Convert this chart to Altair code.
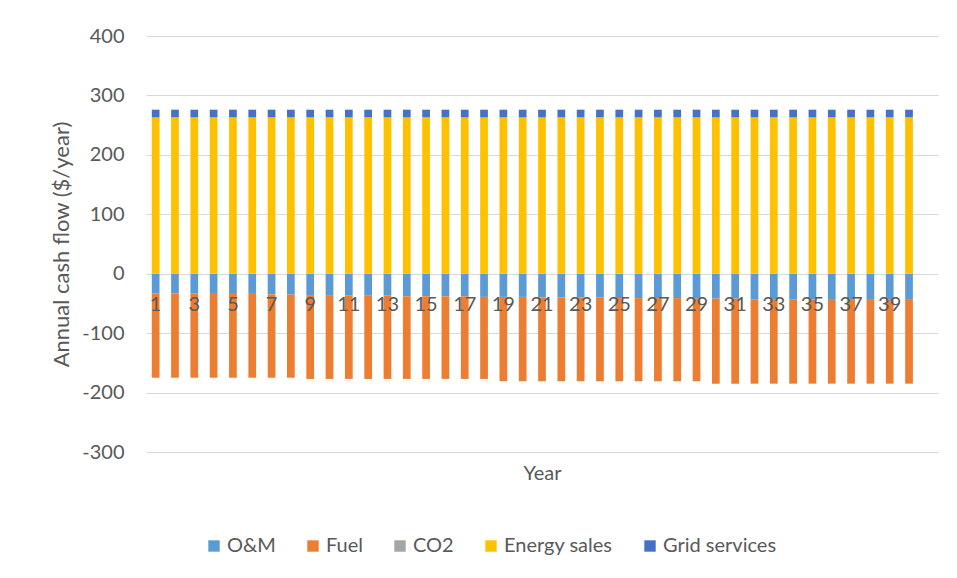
import altair as alt
import pandas as pd

years = list(range(1, 41))
series = ["O&M", "Fuel", "CO2", "Energy sales", "Grid services"]
colors = ["#5B9BD5", "#ED7D31", "#A5A5A5", "#FFC000", "#4472C4"]

om = [-33, -33, -33, -34, -34, -34, -35, -35,
      -36, -36, -37, -37, -37, -38, -38, -38, -38, -39,
      -39, -39, -40, -40, -40, -40, -41, -41, -41, -41, -42,
      -42, -42, -43, -43, -43, -43, -44, -44, -44, -44, -44]
fuel = [-142, -142, -142, -141, -141, -141, -140, -140,
        -141, -141, -140, -140, -140, -139, -139, -139, -139, -138,
        -142, -142, -141, -141, -141, -141, -140, -140, -140, -140, -139,
        -143, -143, -142, -142, -142, -142, -141, -141, -141, -141, -141]
co2 = [0] * 40
energy_sales = [263] * 40
grid_services = [13] * 40

x_domain = list(range(1, 42))
label_years = list(range(1, 40, 2))

rows = []
for i, y in enumerate(years):
    for k, (name, vals) in enumerate(zip(series, [om, fuel, co2, energy_sales, grid_services])):
        rows.append({"year": y, "series": name, "value": vals[i], "order": k})
df = pd.DataFrame(rows)
lab_df = pd.DataFrame({"year": label_years, "zero": [0] * len(label_years)})

FONT = "Lato"
GREY = "#595959"

xscale = alt.Scale(domain=x_domain, paddingInner=0.6, paddingOuter=0.3)

bars = alt.Chart(df).mark_bar().encode(
    x=alt.X("year:O", scale=xscale,
            axis=alt.Axis(title="Year", labels=False, ticks=False, domain=False,
                          titleFont=FONT, titleFontSize=20, titleColor=GREY,
                          titleFontWeight="normal", titlePadding=11)),
    y=alt.Y("value:Q", stack="zero",
            scale=alt.Scale(domain=[-300, 400], nice=False),
            axis=alt.Axis(title="Annual cash flow ($/year)", values=list(range(-300, 401, 100)),
                          labelExpr="toString(datum.value)",
                          ticks=False, domain=False, gridColor="#D9D9D9", gridWidth=1,
                          labelFont=FONT, labelFontSize=20, labelColor=GREY, labelPadding=22,
                          titleFont=FONT, titleFontSize=22, titleColor=GREY,
                          titleFontWeight="normal", titlePadding=8)),
    color=alt.Color("series:N", scale=alt.Scale(domain=series, range=colors),
                    sort=series,
                    legend=alt.Legend(title=None, orient="none", direction="horizontal",
                                      legendX=58, legendY=500, symbolType="square",
                                      symbolSize=130, symbolStrokeWidth=0,
                                      labelFont=FONT, labelFontSize=20, labelColor=GREY,
                                      columnPadding=27, labelOffset=3)),
    order=alt.Order("order:Q"),
)

labels = alt.Chart(lab_df).mark_text(font=FONT, fontSize=20, color=GREY,
                                     baseline="middle", dy=31).encode(
    x=alt.X("year:O", scale=xscale),
    y=alt.Y("zero:Q"),
    text=alt.Text("year:O"),
)

chart = alt.layer(bars, labels).properties(
    width=792, height=416,
    autosize=alt.AutoSizeParams(type="none"),
    padding={"left": 138, "top": 28, "right": 5, "bottom": 110},
).configure_view(stroke=None)

chart.save("out.html", embed_options={"renderer": "svg", "actions": False})
